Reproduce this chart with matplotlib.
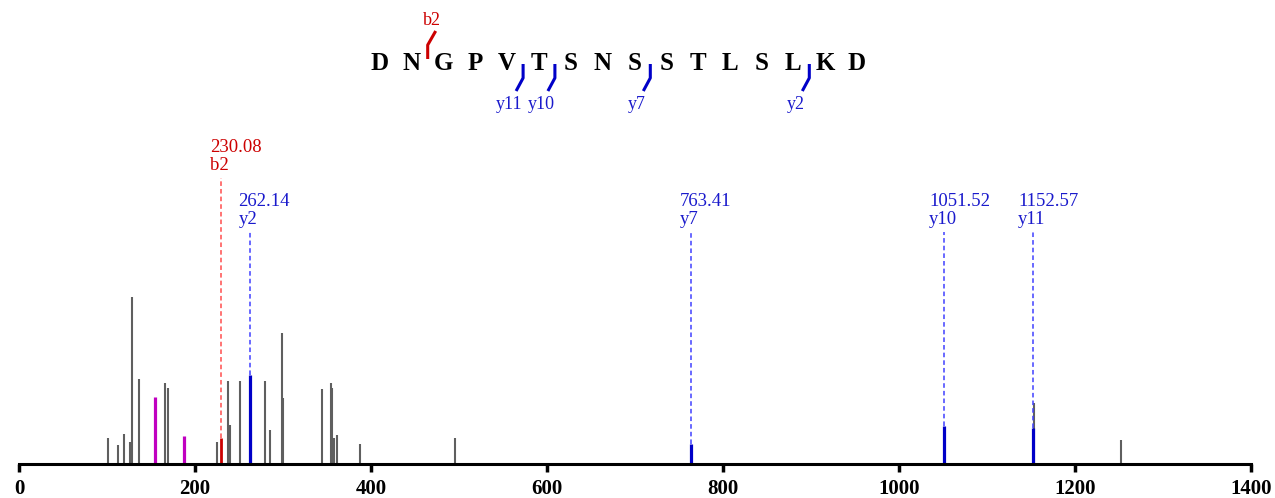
import numpy as np
import matplotlib.pyplot as plt

plt.rcParams['font.family'] = ['Liberation Serif', 'DejaVu Serif']

# peptide
sequence = "DNGPVTSNSSTLSLKD"
b_frag = [2]
y_frag = [11, 10, 7, 2]

# unassigned peaks (m/z, relative intensity)
mz_other = [100.6, 113.0, 118.8, 126.7, 128.6, 135.8, 165.6, 169.4, 225.4, 237.9,
            239.8, 251.5, 263.2, 279.0, 285.0, 298.4, 300.3, 344.5, 354.0, 356.0,
            357.8, 361.5, 388.0, 495.8, 1153.5, 1252.2]
int_other = [15.6, 11.4, 18.0, 13.2, 100.0, 50.9, 48.5, 45.5, 13.2, 49.7,
             23.4, 49.7, 20.4, 49.7, 20.4, 78.4, 39.5, 44.9, 48.5, 45.5,
             15.6, 17.4, 12.0, 15.6, 36.5, 14.4]

# other marked peaks
mz_mag = [154.3, 188.0]
int_mag = [40.1, 16.8]

# b ions
b_mz = [230.08]
b_int = [15.6]
b_lab = ["b2"]

# y ions
y_mz = [262.14, 763.41, 1051.52, 1152.57]
y_int = [53.3, 12.0, 22.8, 21.6]
y_lab = ["y2", "y7", "y10", "y11"]

W, H = 1275, 498
fig = plt.figure(figsize=(W / 100, H / 100), dpi=100)

x0, x1, ybase = 19, 1251, 464
ax = fig.add_axes([x0 / W, (H - ybase) / H, (x1 - x0) / W, ybase / H])
ymax = ybase / 167 * 100
ax.set_xlim(0, 1400)
ax.set_ylim(0, ymax)

gray = "#5f5f5f"
red = "#cc0000"
blue = "#0000c8"
mag = "#c000c0"

ax.vlines(mz_other, 0, int_other, color=gray, lw=1.5)
ax.vlines(mz_mag, 0, int_mag, color=mag, lw=2.3)
ax.vlines(b_mz, 0, b_int, color=red, lw=2.0)
ax.vlines(y_mz, 0, y_int, color=blue, lw=2.3)

# dashed leaders + labels
b_top = (ybase - 178) / 167 * 100
y_top = (ybase - 232) / 167 * 100
ax.vlines(b_mz, b_int, b_top, color="#ff4d4d", lw=1.1, linestyles=(0, (3, 2)))
ax.vlines(y_mz, y_int, y_top, color="#4040ff", lw=1.1, linestyles=(0, (3, 2)))

def label(m, top, lab, col):
    off = -11 if m >= 1000 else -8
    ax.annotate(f"{m:.2f}\n{lab}", xy=(m, top), xytext=(off, 3), textcoords="offset points",
                ha="left", va="bottom", color=col, fontsize=13.5, linespacing=1.05)

for m, lab in zip(b_mz, b_lab):
    label(m, b_top, lab, red)
for m, lab in zip(y_mz, y_lab):
    label(m, y_top, lab, "#1a1acc")

for s in ["left", "right", "top"]:
    ax.spines[s].set_visible(False)
ax.spines["bottom"].set_linewidth(2.2)
ax.set_yticks([])
ax.set_xticks(np.arange(0, 1401, 200))
ax.tick_params(axis="x", direction="out", length=6, width=2.5, pad=5)
for t in ax.get_xticklabels():
    t.set_fontsize(15)
    t.set_fontweight("bold")

# sequence panel in pixel coords
ov = fig.add_axes([0, 0, 1, 1])
ov.set_xlim(0, W)
ov.set_ylim(H, 0)
ov.axis("off")
ov.patch.set_alpha(0)

sx, dx, sy = 380, 31.8, 63
for i, aa in enumerate(sequence):
    ov.text(sx + i * dx, sy, aa, ha="center", va="center", fontsize=18, fontweight="bold")

for k in b_frag:
    cx = sx + (k - 0.5) * dx
    ov.plot([cx, cx, cx + 8], [59, 45, 31], color=red, lw=2.2, solid_capstyle="butt")
    ov.text(cx + 4, 20, f"b{k}", ha="center", va="center", color=red, fontsize=13)

n = len(sequence)
for k in y_frag:
    cx = sx + (n - k - 0.5) * dx
    ov.plot([cx, cx, cx - 7], [64, 78, 91], color=blue, lw=2.2, solid_capstyle="butt")
    ov.text(cx - 14, 104, f"y{k}", ha="center", va="center", color="#1a1acc", fontsize=13)

fig.savefig("out.png", dpi=100)
